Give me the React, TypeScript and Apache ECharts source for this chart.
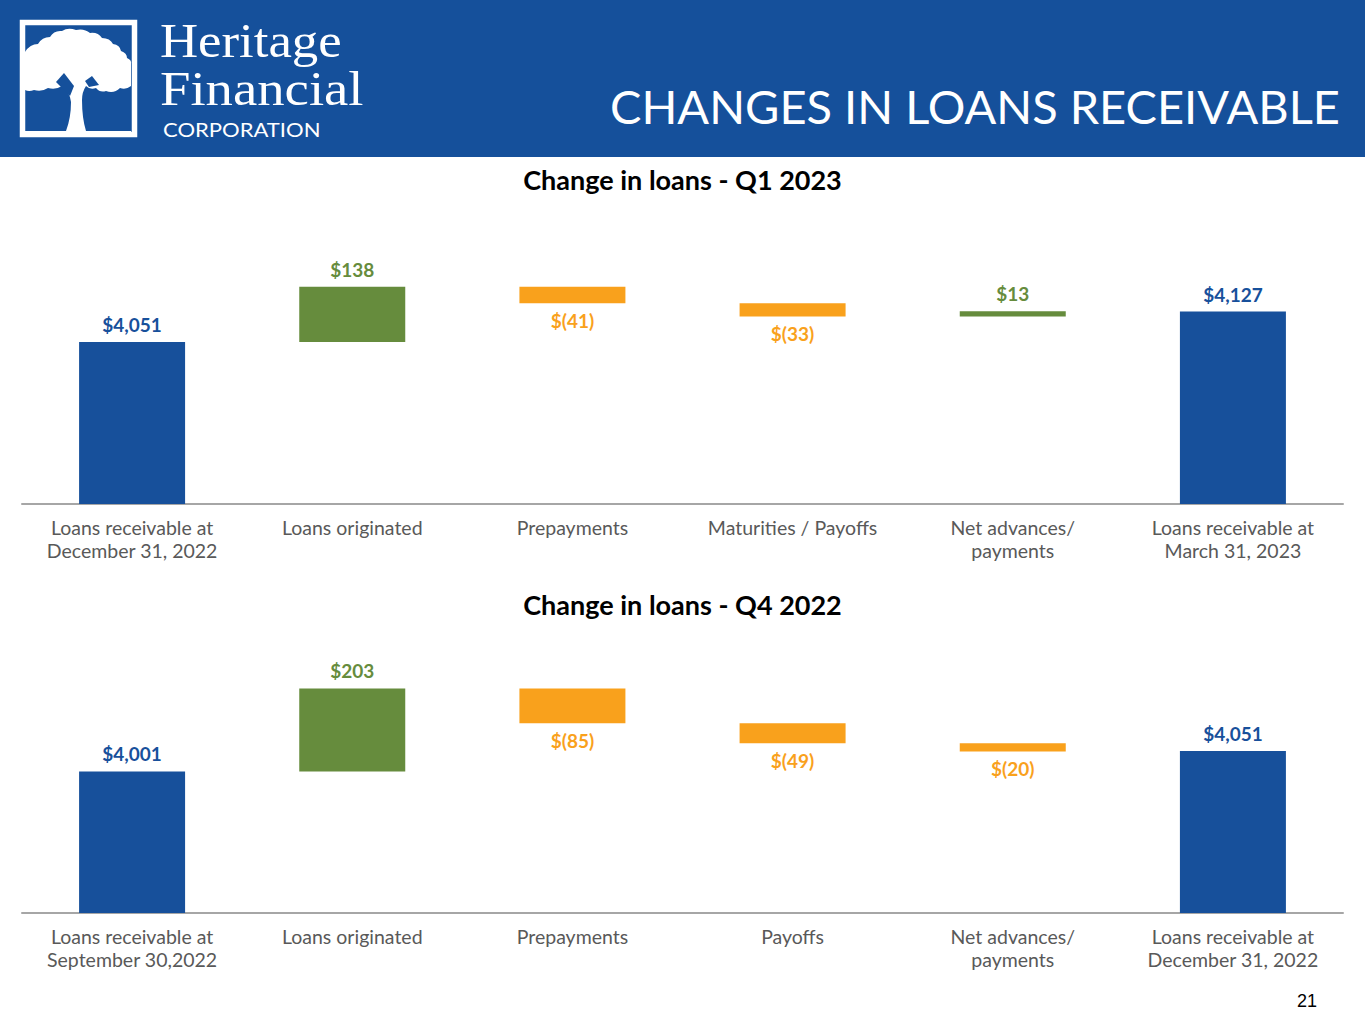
import React, { useEffect, useRef } from "react";
import * as echarts from "echarts";

const categoriesQ1 = [
  "Loans receivable at\nDecember 31, 2022",
  "Loans originated",
  "Prepayments",
  "Maturities / Payoffs",
  "Net advances/\npayments",
  "Loans receivable at\nMarch 31, 2023",
];
const startQ1 = 4051;
const changesQ1 = [138, -41, -33, 13];
const endQ1 = 4127;

const categoriesQ4 = [
  "Loans receivable at\nSeptember 30,2022",
  "Loans originated",
  "Prepayments",
  "Payoffs",
  "Net advances/\npayments",
  "Loans receivable at\nDecember 31, 2022",
];
const startQ4 = 4001;
const changesQ4 = [203, -85, -49, -20];
const endQ4 = 4051;

const BLUE = "#17509b";
const HEADER = "#15509b";
const GREEN = "#668c3d";
const ORANGE = "#f9a11c";
const FONT = "Lato, 'Open Sans', sans-serif";

const TREE_PATH =
  "M25 52 Q30 44 38 44 Q42 37 50 37 Q54 30 62 31 Q68 27 76 30 Q84 28 90 33 Q98 32 102 38 Q110 38 113 44 Q120 45 121 51 Q127 53 127 58 Q132 60 131 64 L131 86 Q126 90 120 88 Q114 94 106 91 Q100 93 96 88 Q90 90 86 86 Q82 92 82 100 Q82 118 86 131 L131 131 L131 133 L25 133 L25 131 L66 131 Q71 118 71 102 Q70 92 62 86 Q56 90 48 88 Q42 92 34 90 Q29 92 25 90 Z";

function buildWaterfall(start: number, changes: number[], end: number) {
  const base: (number | string)[] = ["-"];
  const inc: (number | string)[] = ["-"];
  const dec: (number | string)[] = ["-"];
  const total: (number | string)[] = [start];
  let running = start;
  changes.forEach((c) => {
    if (c >= 0) {
      base.push(running);
      inc.push(c);
      dec.push("-");
      running += c;
    } else {
      running += c;
      base.push(running);
      inc.push("-");
      dec.push(-c);
    }
    total.push("-");
  });
  base.push("-");
  inc.push("-");
  dec.push("-");
  total.push(end);
  return { base, inc, dec, total };
}

function seriesFor(idx: number, start: number, changes: number[], end: number) {
  const w = buildWaterfall(start, changes, end);
  const stack = "wf" + idx;
  const labelCommon = { show: true, fontFamily: FONT, fontSize: 19, fontWeight: "bold" as const, distance: 8 };
  return [
    {
      type: "bar", xAxisIndex: idx, yAxisIndex: idx, stack, data: w.base, barWidth: 106,
      itemStyle: { color: "transparent" }, silent: true,
    },
    {
      type: "bar", xAxisIndex: idx, yAxisIndex: idx, stack, data: w.total, barWidth: 106,
      itemStyle: { color: BLUE },
      label: { ...labelCommon, position: "top", color: BLUE, formatter: (p: any) => "$" + Number(p.value).toLocaleString("en-US") },
    },
    {
      type: "bar", xAxisIndex: idx, yAxisIndex: idx, stack, data: w.inc, barWidth: 106,
      itemStyle: { color: GREEN },
      label: { ...labelCommon, position: "top", color: GREEN, formatter: (p: any) => "$" + p.value },
    },
    {
      type: "bar", xAxisIndex: idx, yAxisIndex: idx, stack, data: w.dec, barWidth: 106,
      itemStyle: { color: ORANGE },
      label: { ...labelCommon, position: "bottom", color: ORANGE, formatter: (p: any) => "$(" + p.value + ")" },
    },
  ];
}

function xAxisFor(idx: number, cats: string[]) {
  return {
    type: "category", gridIndex: idx, data: cats,
    axisTick: { show: false },
    axisLine: { show: true, lineStyle: { color: "#a6a6a6", width: 2 } },
    axisLabel: { interval: 0, color: "#595959", fontFamily: FONT, fontSize: 19.5, lineHeight: 23, margin: 12 },
  };
}

export default function App() {
  const ref = useRef<HTMLDivElement>(null);
  useEffect(() => {
    if (!ref.current) return;
    echarts.graphic.registerShape("logoTree", echarts.graphic.extendPath(TREE_PATH, {}));
    const chart = echarts.init(ref.current, null, { renderer: "svg" });
    const titleStyle = { fontFamily: FONT, fontSize: 27, fontWeight: "bold", color: "#000" };
    chart.setOption({
      animation: false,
      backgroundColor: "#ffffff",
      title: [
        { text: "Change in loans - Q1 2023", left: "center", top: 161, textStyle: titleStyle },
        { text: "Change in loans - Q4 2022", left: "center", top: 586, textStyle: titleStyle },
      ],
      grid: [
        { left: 22, width: 1321, top: 264, height: 240 },
        { left: 22, width: 1321, top: 670, height: 243 },
      ],
      xAxis: [xAxisFor(0, categoriesQ1), xAxisFor(1, categoriesQ4)],
      yAxis: [
        { type: "value", gridIndex: 0, min: 3646, max: 4246, show: false, splitLine: { show: false } },
        { type: "value", gridIndex: 1, min: 3655, max: 4249, show: false, splitLine: { show: false } },
      ],
      series: [...seriesFor(0, startQ1, changesQ1, endQ1), ...seriesFor(1, startQ4, changesQ4, endQ4)],
      graphic: [
        { type: "rect", shape: { x: 0, y: 0, width: 1365, height: 157 }, style: { fill: HEADER }, z: 0 },
        { type: "rect", shape: { x: 22.5, y: 22.5, width: 112, height: 112 }, style: { fill: "none", stroke: "#ffffff", lineWidth: 5.5 }, z: 1 },
        { type: "logoTree", x: 0, y: 0, style: { fill: "#ffffff" }, z: 1 },
        { type: "polygon", shape: { points: [[56, 82], [64, 73], [74, 86], [70, 96]] }, style: { fill: HEADER }, z: 2 },
        { type: "polygon", shape: { points: [[85, 81], [92, 76], [99, 85], [89, 87]] }, style: { fill: HEADER }, z: 2 },
        { type: "text", x: 160, y: 41, scaleX: 1.1, style: { text: "Heritage", fill: "#fff", font: "48px 'Liberation Serif', serif", textAlign: "left", textVerticalAlign: "middle" }, z: 1 },
        { type: "text", x: 160, y: 89, scaleX: 1.14, style: { text: "Financial", fill: "#fff", font: "48px 'Liberation Serif', serif", textAlign: "left", textVerticalAlign: "middle" }, z: 1 },
        { type: "text", x: 163, y: 130, scaleX: 1.16, style: { text: "CORPORATION", fill: "#fff", font: "19px Lato, sans-serif", textAlign: "left", textVerticalAlign: "middle" }, z: 1 },
        { type: "text", x: 1340, y: 106, style: { text: "CHANGES IN LOANS RECEIVABLE", fill: "#fff", font: "47px Lato, sans-serif", textAlign: "right", textVerticalAlign: "middle" }, z: 1 },
        { type: "text", x: 1317, y: 1001, style: { text: "21", fill: "#000", font: "18px 'Liberation Sans', Arial, sans-serif", textAlign: "right", textVerticalAlign: "middle" }, z: 1 },
      ],
    });
    return () => chart.dispose();
  }, []);
  return <div ref={ref} style={{ position: "absolute", left: 0, top: 0, width: 1365, height: 1024 }} />;
}
